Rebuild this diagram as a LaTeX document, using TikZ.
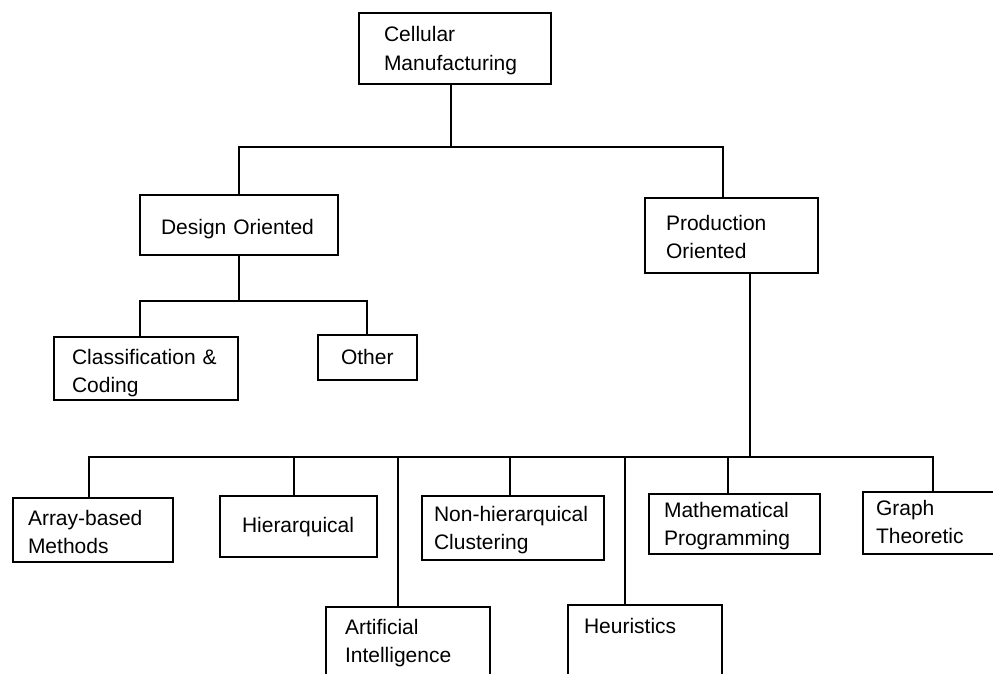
\documentclass[tikz,border=0pt]{standalone}
\usepackage{fontspec}
\setmainfont{Liberation Sans}

\begin{document}
\begin{tikzpicture}[x=1pt, y=-1pt, line width=2pt,
    every node/.style={font=\fontsize{21}{28.5}\selectfont},
    box/.style={draw, anchor=north west, align=left, inner ysep=0pt}]
	\useasboundingbox (0,0) rectangle (993,674);
	\clip (0,0) rectangle (993,674);
	% boxes
	\node[box, text width=142pt, inner xsep=25pt, text height=29pt, text depth=42pt] (cell) at (358,12) {Cellular\\Manufacturing};
	\node[box, text width=156pt, inner xsep=21pt, text height=39pt, text depth=21pt] (design) at (139,194) {Design Oriented};
	\node[box, text width=131pt, inner xsep=21pt, text height=32pt, text depth=43pt] (prod) at (644,197) {Production\\Oriented};
	\node[box, text width=148pt, inner xsep=18pt, text height=27pt, text depth=36pt] (classif) at (53,336) {Classification~\&\\Coding};
	\node[box, text width=53pt, inner xsep=23pt, text height=29pt, text depth=16pt] (other) at (317,334) {Other};
	\node[box, text width=130pt, inner xsep=15pt, text height=27pt, text depth=37pt] (array) at (12,497) {Array-based\\Methods};
	\node[box, text width=113pt, inner xsep=22pt, text height=36pt, text depth=25pt] (hier) at (219,495) {Hierarquical};
	\node[box, text width=126pt, inner xsep=19pt, text height=27pt, text depth=60pt] (ai) at (325,606) {Artificial\\Intelligence};
	\node[box, text width=158pt, inner xsep=12pt, text height=25pt, text depth=39pt] (nonhier) at (421,495) {Non-hierarquical\\Clustering};
	\node[box, text width=122pt, inner xsep=16pt, text height=28pt, text depth=70pt] (heur) at (567,604) {Heuristics};
	\node[box, text width=141pt, inner xsep=15pt, text height=23pt, text depth=37pt] (math) at (648,493) {Mathematical\\Programming};
	\node[box, text width=124pt, inner xsep=13pt, text height=23pt, text depth=39pt] (graph) at (862,491) {Graph\\Theoretic};
	% connectors
	\coordinate (b1) at (451,147);
	\coordinate (b2) at (design.south |- 0,301);
	\coordinate (b3) at (750,457);
	\draw (cell.south -| b1) -- (b1);
	\draw (design.north) |- (b1) -| ([xshift=-8.5pt]prod.north);
	\draw (design.south) -- (b2);
	\draw ([xshift=-6pt]classif.north) |- (b2) -| ([xshift=-0.5pt]other.north);
	\draw (prod.south -| b3) -- (b3);
	\draw ([xshift=-4pt]array.north) |- (b3) -| ([xshift=-5pt]graph.north);
	\foreach \n/\s in {hier/-4.5, ai/-10, nonhier/-3, heur/-20, math/-6.5}
		\draw ([xshift=\s pt]\n.north) |- (b3);
\end{tikzpicture}
\end{document}
